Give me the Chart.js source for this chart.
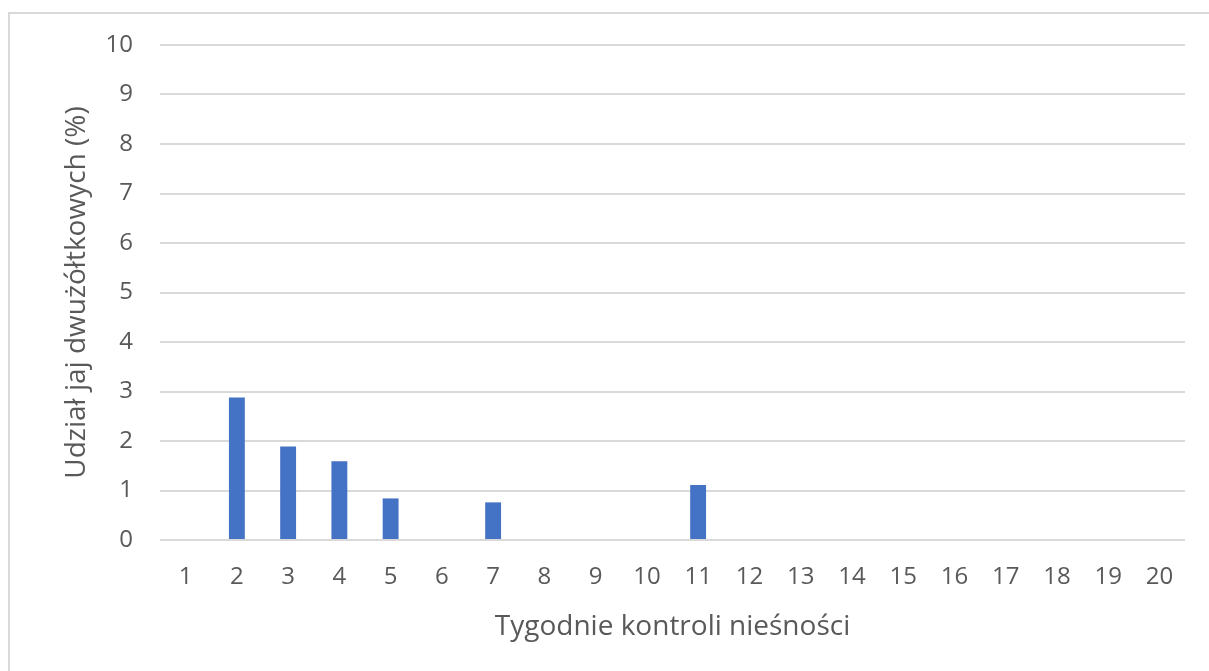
<!DOCTYPE html>
<html>
<head>
<meta charset="utf-8">
<script src="https://cdn.jsdelivr.net/npm/chart.js@4/dist/chart.umd.min.js"></script>
<style>
  html, body { margin: 0; padding: 0; background: #fff; }
  #wrap { position: relative; width: 1209px; height: 671px; overflow: hidden; }
  #frame { position: absolute; left: 8px; top: 12px; width: 1220px; height: 700px; border: 2px solid #d9d9d9; box-sizing: border-box; }
  canvas { position: absolute; left: 0; top: 0; }
</style>
</head>
<body>
<div id="wrap">
  <div id="frame"></div>
  <canvas id="chart" width="1209" height="671"></canvas>
</div>
<script>
const weeks = ['1','2','3','4','5','6','7','8','9','10','11','12','13','14','15','16','17','18','19','20'];
const shares = [0, 2.88, 1.89, 1.59, 0.84, 0, 0.76, 0, 0, 0, 1.11, 0, 0, 0, 0, 0, 0, 0, 0, 0];

const fontFamily = "'Open Sans', 'Liberation Sans', sans-serif";

new Chart(document.getElementById('chart'), {
    type: 'bar',
    data: {
        labels: weeks,
        datasets: [{
            data: shares,
            backgroundColor: '#4472c4',
            borderWidth: 0,
            barPercentage: 0.31,
            categoryPercentage: 1
        }]
    },
    options: {
        responsive: false,
        animation: false,
        layout: { padding: { left: 56, right: 24, top: 45, bottom: 23 } },
        plugins: {
            legend: { display: false },
            tooltip: { enabled: false }
        },
        scales: {
            x: {
                grid: { display: false },
                border: { display: false },
                ticks: { color: '#595959', font: { family: fontFamily, size: 24 }, padding: 15 },
                title: {
                    display: true,
                    text: 'Tygodnie kontroli nieśności',
                    color: '#595959',
                    font: { family: fontFamily, size: 28 },
                    padding: { top: 6 }
                },
                afterFit: (axis) => { axis.height = 108; }
            },
            y: {
                min: 0,
                max: 10,
                ticks: { stepSize: 1, color: '#595959', font: { family: fontFamily, size: 24 }, padding: 27 },
                grid: { color: '#d9d9d9', lineWidth: 2, drawTicks: false },
                border: { display: false },
                title: {
                    display: true,
                    text: 'Udział jaj dwużółtkowych (%)',
                    color: '#595959',
                    font: { family: fontFamily, size: 28 },
                    padding: { bottom: 0 }
                },
                afterFit: (axis) => { axis.width = 104; }
            }
        }
    }
});
</script>
</body>
</html>
